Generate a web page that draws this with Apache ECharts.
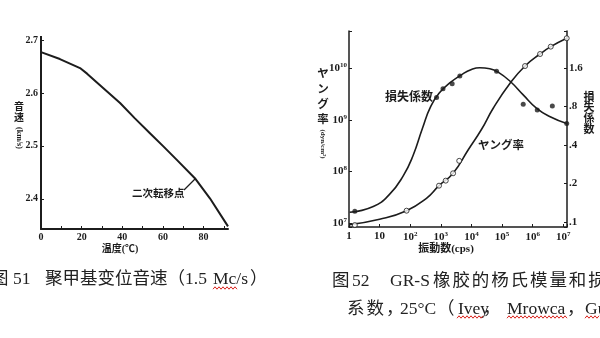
<!DOCTYPE html>
<html><head><meta charset="utf-8">
<script src="https://cdn.jsdelivr.net/npm/echarts@6/dist/echarts.min.js"></script>
<style>html,body{margin:0;padding:0;background:#fff}#c{width:600px;height:338px}</style>
</head><body><div id="c"></div>
<script>
// ---- Fig. 51: sound velocity vs temperature ----
const tempC      = [0, 9.3, 19.2, 22.8, 30.7, 38.9, 46.2, 53.6, 60.2, 66.7, 75.7, 83.1, 92];
const soundSpeed = [2.677, 2.664, 2.647, 2.636, 2.609, 2.581, 2.552, 2.524, 2.499, 2.474, 2.439, 2.401, 2.348];
const tempTicks  = [0, 20, 40, 60, 80];
const speedTicks = [2.4, 2.5, 2.6, 2.7];

// ---- Fig. 52: GR-S rubber, Young's modulus & loss factor vs frequency ----
const lossCurveFreq = [1.05, 6.2, 21, 59, 123, 251, 468, 933, 1950, 4790, 10000, 18600, 39800, 74100, 182000, 490000, 1350000, 3720000, 12900000];
const lossCurve     = [0.119, 0.132, 0.164, 0.229, 0.329, 0.54, 0.80, 1.03, 1.217, 1.416, 1.551, 1.60, 1.571, 1.479, 1.255, 0.983, 0.771, 0.663, 0.587];
const lossDotFreq   = [1.55, 724, 1175, 2340, 4170, 66100, 490000, 1410000, 4370000, 12900000];
const lossDots      = [0.121, 0.938, 1.097, 1.20, 1.383, 1.506, 0.83, 0.748, 0.804, 0.587];
const youngCurveFreq = [1.05, 10, 76, 339, 871, 2510, 7760, 21400, 51300, 182000, 562000, 1740000, 3890000, 12900000];
const youngCurve     = [9.3e6, 1.18e7, 1.73e7, 3.01e7, 5.28e7, 9.18e7, 2.6e8, 6.55e8, 1.67e9, 5.09e9, 1.1e10, 1.88e10, 2.61e10, 3.8e10];
const youngDotFreq   = [1.55, 76, 871, 1445, 2510, 3980, 562000, 1740000, 3890000, 12900000];
const youngDots      = [9.1e6, 1.73e7, 5.28e7, 6.61e7, 9.18e7, 1.6e8, 1.1e10, 1.88e10, 2.61e10, 3.8e10];
const freqTicks  = [1, 10, 1e2, 1e3, 1e4, 1e5, 1e6, 1e7];
const youngTicks = [1e7, 1e8, 1e9, 1e10];
const lossTicks  = [0.1, 0.2, 0.4, 0.8, 1.6];
const LOSS_UNIT = 10; // loss axis plotted in tenths on a base-2 log axis

const F = "'Liberation Serif','Noto Sans CJK JP',serif";
const INK = '#1c1c1c';
const near = (v, list) => list.some(t => Math.abs(v - t) <= 1e-6 * Math.max(1, Math.abs(t)));
const rich = {
  b: {fontSize: 11, fontWeight: 'bold', fontFamily: F, color: INK},
  s: {fontSize: 7, fontWeight: 'bold', fontFamily: F, color: INK, padding: [0, 0, 6, 0]}
};
const pow10Label = v => {
  const e = Math.round(Math.log10(v));
  if (e === 0) return '{b|1}';
  if (e === 1) return '{b|10}';
  return '{b|10}{s|' + e + '}';
};

const chart = echarts.init(document.getElementById('c'), null, {renderer: 'canvas', width: 600, height: 338});

function txt(text, x, y, size, opt) {
  opt = opt || {};
  return {
    type: 'text', x: x, y: y, rotation: opt.rot || 0, silent: true,
    style: {
      text: text, fontSize: size, fontFamily: opt.family || F, fontWeight: opt.weight || 'normal',
      fill: opt.color || INK,
      align: opt.align || 'left', textAlign: opt.align || 'left',
      verticalAlign: 'middle', textVerticalAlign: 'middle'
    }
  };
}
function spaced(str, x, y, step, size) {
  return Array.from(str).map((ch, i) => txt(ch, x + i * step, y, size));
}
function wavy(x0, x1, y) {
  const pts = [];
  for (let x = x0, k = 0; x <= x1; x += 2, k++) pts.push([x, y + (k % 2 ? -1.2 : 1.2)]);
  return {type: 'polyline', silent: true, shape: {points: pts}, style: {stroke: '#d9221c', lineWidth: 1, fill: null}};
}
const capFont = "'Liberation Serif','Noto Sans CJK SC',serif";
const cap = (t, x, y) => txt(t, x, y, 17.5, {family: capFont, color: '#222'});
const capSpaced = (s, x, y, step) => spaced(s, x, y, step, 17.5).map(e => (e.style.fontFamily = capFont, e.style.fill = '#222', e));

const graphics = [
  // Fig 51 axis titles and note
  txt('音', 19, 107, 10, {align: 'center', weight: 'bold'}),
  txt('速', 19, 118, 10, {align: 'center', weight: 'bold'}),
  txt('(km/s)', 19, 138, 8, {align: 'center', weight: 'bold', rot: -Math.PI / 2}),
  txt('温度(℃)', 120, 249, 10, {align: 'center', weight: 'bold'}),
  txt('二次転移点', 132, 194, 10.5, {weight: 'bold'}),
  {type: 'line', silent: true, shape: {x1: 184, y1: 190, x2: 195, y2: 179}, style: {stroke: INK, lineWidth: 1.3}},
  {type: 'line', silent: true, shape: {x1: 41, y1: 36, x2: 41, y2: 41}, style: {stroke: INK, lineWidth: 2}},
  // Fig 52 axis titles and labels
  txt('ヤ', 323, 74, 11.5, {align: 'center', weight: 'bold'}),
  txt('ン', 323, 90, 11.5, {align: 'center', weight: 'bold'}),
  txt('グ', 323, 105, 11.5, {align: 'center', weight: 'bold'}),
  txt('率', 323, 120, 11.5, {align: 'center', weight: 'bold'}),
  txt('(dyn/cm²)', 323, 144, 7, {align: 'center', weight: 'bold', rot: -Math.PI / 2}),
  txt('損失係数', 385, 98, 12, {weight: 'bold'}),
  txt('ヤング率', 478, 146, 11.5, {weight: 'bold'}),
  txt('損', 589, 98, 11, {align: 'center', weight: 'bold'}),
  txt('失', 589, 108.5, 11, {align: 'center', weight: 'bold'}),
  txt('係', 589, 119, 11, {align: 'center', weight: 'bold'}),
  txt('数', 589, 130.5, 11, {align: 'center', weight: 'bold'}),
  txt('振動数(cps)', 446, 249, 11, {align: 'center', weight: 'bold'}),
  // captions
  cap('图', -9, 279), cap('51', 13, 279), cap('聚甲基变位音速（', 45, 279),
  cap('1.5', 185, 279), cap('Mc/s', 213, 279), cap('）', 250, 279),
  wavy(213, 237, 288),
  cap('图', 332, 281), cap('52', 352, 281), cap('GR-S', 390, 281),
  ...capSpaced('橡胶的杨氏模量和损', 433, 281, 19.4),
  ...capSpaced('系数，', 347, 309, 19.5),
  cap('25°C', 400, 309), cap('（', 437, 309), cap('Ivey', 458, 309), cap('，', 483, 309),
  cap('Mrowca', 507, 309), cap('，', 567, 309), cap('Gu', 585, 309),
  wavy(457, 483, 317), wavy(507, 567, 317), wavy(585, 600, 317)
];

const option = {
  animation: false,
  backgroundColor: '#fff',
  grid: [
    {left: 41, top: 40, width: 187, height: 189},
    {left: 349, top: 31, width: 218, height: 196}
  ],
  xAxis: [
    {gridIndex: 0, type: 'value', min: 0, max: 92, interval: 10,
     axisLine: {onZero: false, lineStyle: {color: INK, width: 2}},
     axisTick: {inside: true, length: 3, lineStyle: {color: INK}},
     splitLine: {show: false},
     axisLabel: {margin: 3, fontSize: 10, fontWeight: 'bold', fontFamily: F, color: INK,
       showMinLabel: true, showMaxLabel: false,
       formatter: v => near(v, tempTicks) ? String(v) : ''}},
    {gridIndex: 1, type: 'log', logBase: 10, min: 1, max: Math.pow(10, 7.12), splitNumber: 7,
     axisLine: {onZero: false, lineStyle: {color: INK, width: 1.5}},
     axisTick: {inside: true, length: 3, lineStyle: {color: INK}},
     splitLine: {show: false}, minorTick: {show: false},
     axisLabel: {margin: 4, rich: rich, showMaxLabel: true,
       formatter: v => near(v, freqTicks) ? pow10Label(v) : ''}}
  ],
  yAxis: [
    {gridIndex: 0, type: 'value', min: 2.343, max: 2.7, splitNumber: 3,
     axisLine: {show: true, onZero: false, lineStyle: {color: INK, width: 2}},
     axisTick: {inside: true, length: 3, lineStyle: {color: INK}},
     splitLine: {show: false},
     axisLabel: {margin: 3, fontSize: 10, fontWeight: 'bold', fontFamily: F, color: INK,
       formatter: v => near(v, speedTicks) ? v.toFixed(1) : ''}},
    {gridIndex: 1, type: 'log', logBase: 10, min: Math.pow(10, 6.922), max: Math.pow(10, 10.72),
     axisLine: {show: true, onZero: false, lineStyle: {color: INK, width: 1.5}},
     axisTick: {inside: true, length: 3, lineStyle: {color: INK}},
     splitLine: {show: false},
     axisLabel: {margin: 2, rich: rich,
       formatter: v => near(v, youngTicks) ? pow10Label(v) : ''}},
    {gridIndex: 1, type: 'log', logBase: 2, position: 'right',
     min: Math.pow(2, -5 / 38), max: 31,
     axisLine: {show: true, onZero: false, lineStyle: {color: INK, width: 1.5}},
     axisTick: {inside: true, length: 3, lineStyle: {color: INK}},
     splitLine: {show: false},
     axisLabel: {margin: 2, fontSize: 11, fontWeight: 'bold', fontFamily: F, color: INK,
       formatter: v => {
         const r = v / LOSS_UNIT;
         if (!near(r, lossTicks)) return '';
         return r < 1 ? '.' + Math.round(r * 10) : r.toFixed(1);
       }}}
  ],
  series: [
    {type: 'line', xAxisIndex: 0, yAxisIndex: 0, symbol: 'none',
     data: tempC.map((t, i) => [t, soundSpeed[i]]),
     lineStyle: {color: INK, width: 2}},
    {type: 'line', xAxisIndex: 1, yAxisIndex: 2, symbol: 'none', smooth: 0.5,
     data: lossCurveFreq.map((f, i) => [f, lossCurve[i] * LOSS_UNIT]),
     lineStyle: {color: INK, width: 1.6}},
    {type: 'scatter', xAxisIndex: 1, yAxisIndex: 2, symbol: 'circle', symbolSize: 5,
     data: lossDotFreq.map((f, i) => [f, lossDots[i] * LOSS_UNIT]),
     itemStyle: {color: INK}},
    {type: 'line', xAxisIndex: 1, yAxisIndex: 1, symbol: 'none', smooth: 0.5,
     data: youngCurveFreq.map((f, i) => [f, youngCurve[i]]),
     lineStyle: {color: INK, width: 1.6}},
    {type: 'scatter', xAxisIndex: 1, yAxisIndex: 1, symbol: 'circle', symbolSize: 5,
     data: youngDotFreq.map((f, i) => [f, youngDots[i]]),
     itemStyle: {color: '#fff', borderColor: INK, borderWidth: 1}, z: 5}
  ],
  graphic: {elements: graphics}
};
chart.setOption(option);
</script>
</body></html>
